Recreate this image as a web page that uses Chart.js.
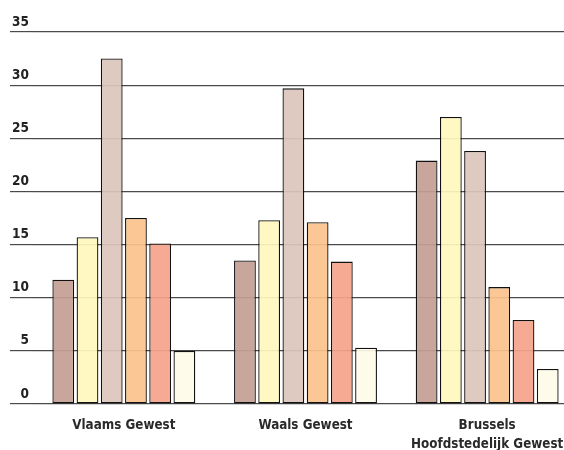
<!DOCTYPE html>
<html>
<head>
<meta charset="utf-8">
<script src="https://cdn.jsdelivr.net/npm/chart.js@4"></script>
<style>
  html, body { margin: 0; padding: 0; background: #fff; overflow: hidden; }
  #wrap { width: 578px; height: 450px; }
</style>
</head>
<body>
<div id="wrap"><canvas id="chart"></canvas></div>
<script>
const categories = ["Vlaams Gewest", "Waals Gewest", ["Brussels", "Hoofdstedelijk Gewest"]];
const serie1 = [11.7, 13.5, 22.9];
const serie2 = [15.7, 17.3, 27.0];
const serie3 = [32.5, 29.7, 23.8];
const serie4 = [17.5, 17.1, 11.0];
const serie5 = [15.1, 13.4, 7.9];
const serie6 = [5.0, 5.3, 3.3];
const yTicks = [0, 5, 10, 15, 20, 25, 30, 35];

const colors = [
  "rgba(196,158,148,0.92)",
  "rgba(255,247,189,0.92)",
  "rgba(220,198,189,0.92)",
  "rgba(251,195,140,0.92)",
  "rgba(245,163,138,0.92)",
  "rgba(255,251,232,0.92)"
];
const series = [serie1, serie2, serie3, serie4, serie5, serie6];

const xFont = { family: "'DejaVu Sans Condensed', 'Liberation Sans Narrow', sans-serif", size: 13.3, weight: "bold", lineHeight: 1.45 };
const yFont = { family: "'DejaVu Sans Condensed', 'Liberation Sans Narrow', sans-serif", size: 13.5, weight: "bold" };

new Chart(document.getElementById("chart"), {
  type: "bar",
  data: {
    labels: categories,
    datasets: series.map((s, i) => ({
      label: "Reeks " + (i + 1),
      data: s,
      backgroundColor: colors[i],
      borderColor: "#111",
      borderWidth: 1.3,
      borderSkipped: false
    }))
  },
  options: {
    responsive: true,
    maintainAspectRatio: false,
    animation: false,
    layout: { padding: { top: 32, right: 0, left: 0, bottom: 0 } },
    plugins: { legend: { display: false }, tooltip: { enabled: false } },
    scales: {
      x: {
        grid: { display: false },
        border: { display: false },
        ticks: { color: "#2a2a2a", font: xFont, padding: 4 },
        afterFit: (scale) => { scale.height = 46; }
      },
      y: {
        min: 0,
        max: 35,
        afterBuildTicks: (scale) => { scale.ticks = yTicks.map(v => ({ value: v })); },
        grid: { color: "#4a4a4a", lineWidth: 1.2, tickLength: 23 },
        border: { display: false },
        ticks: { color: "#222", font: yFont, padding: -19, labelOffset: -10 },
        afterFit: (scale) => { scale.width = 33; }
      }
    }
  }
});
</script>
</body>
</html>
